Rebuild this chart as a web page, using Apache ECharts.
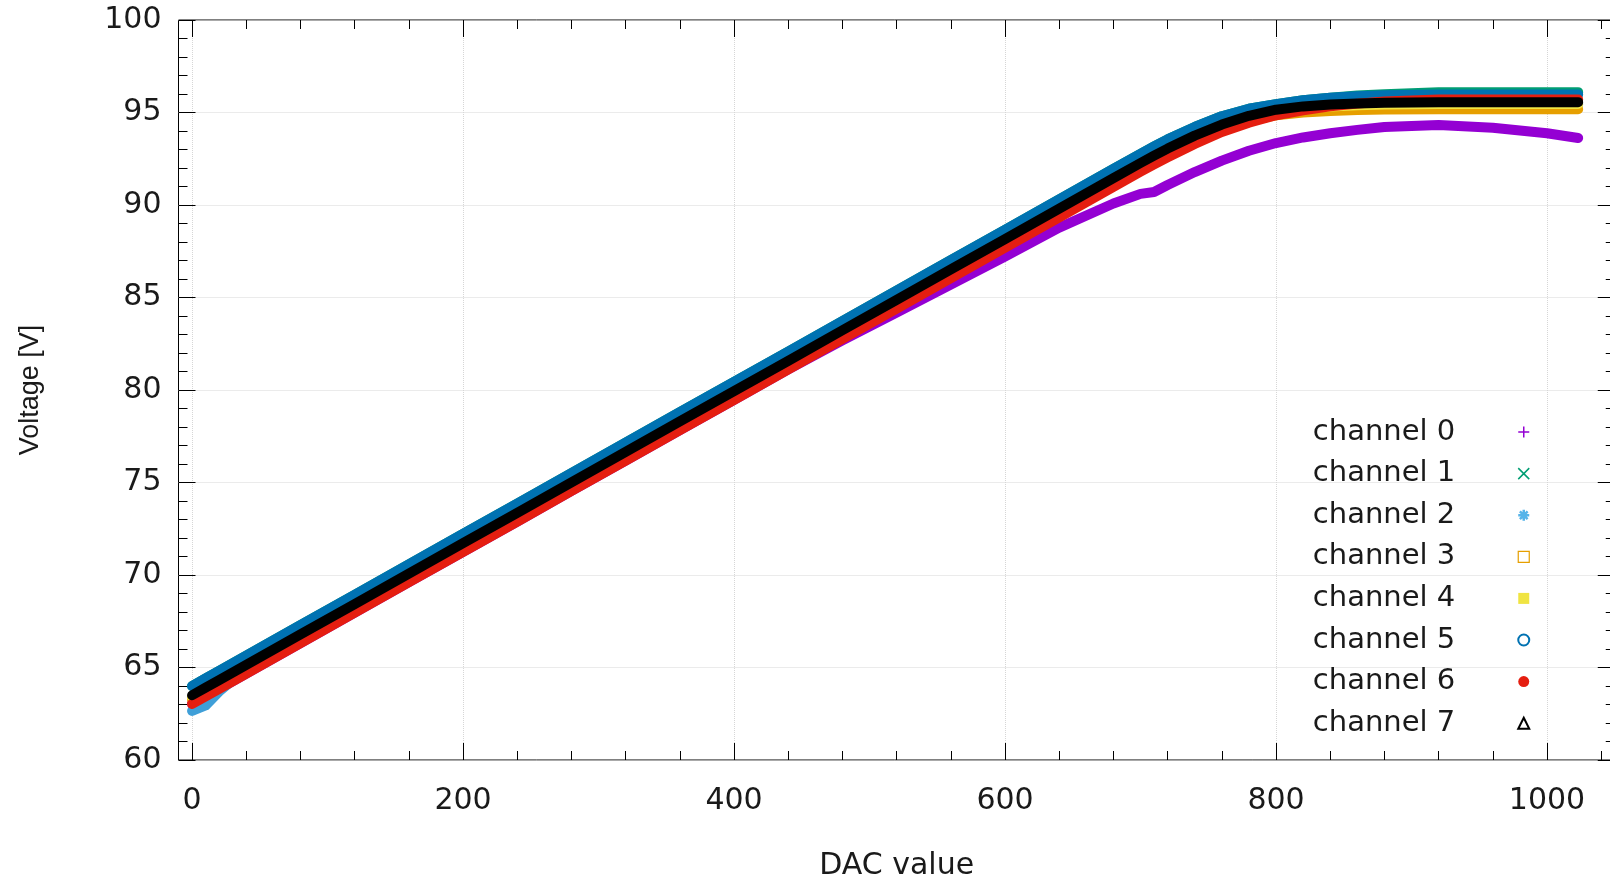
<!DOCTYPE html>
<html>
<head>
<meta charset="utf-8">
<script src="https://cdn.jsdelivr.net/npm/echarts@6/dist/echarts.min.js"></script>
<style>
html,body{margin:0;padding:0;background:#fff;}
#chart{width:1610px;height:879px;}
</style>
</head>
<body>
<div id="chart"></div>
<script>
// DAC sample positions (x)
var dac = [0,10,20,40,80,120,160,200,240,280,320,360,400,440,480,520,560,600,640,680,700,710,720,740,760,780,800,820,840,860,880,920,960,1000,1023];

// Voltage [V] per channel
var ch0 = [63.03,63.44,63.85,64.67,66.32,67.96,69.61,71.25,72.89,74.54,76.18,77.83,79.47,81.11,82.68,84.19,85.70,87.21,88.78,90.08,90.60,90.70,91.08,91.78,92.40,92.93,93.35,93.65,93.88,94.06,94.22,94.32,94.18,93.88,93.62];
var ch1 = [64.00,64.41,64.82,65.64,67.29,68.93,70.58,72.22,73.86,75.51,77.15,78.80,80.44,82.08,83.73,85.37,87.02,88.66,90.30,91.95,92.77,93.17,93.55,94.22,94.80,95.20,95.45,95.66,95.80,95.92,95.98,96.10,96.10,96.10,96.10];
var ch2 = [62.65,62.95,63.70,64.94,66.59,68.23,69.88,71.52,73.16,74.81,76.45,78.10,79.74,81.38,83.03,84.67,86.32,87.96,89.60,91.25,92.07,92.47,92.85,93.55,94.15,94.65,95.00,95.20,95.33,95.39,95.43,95.46,95.46,95.46,95.46];
var ch3 = [63.25,63.66,64.07,64.89,66.54,68.18,69.83,71.47,73.11,74.76,76.40,78.05,79.69,81.33,82.98,84.62,86.27,87.91,89.55,91.20,92.02,92.42,92.80,93.50,94.10,94.55,94.85,95.00,95.08,95.13,95.16,95.18,95.18,95.18,95.18];
var ch4 = [63.40,63.81,64.22,65.04,66.69,68.33,69.98,71.62,73.26,74.91,76.55,78.20,79.84,81.48,83.13,84.77,86.42,88.06,89.70,91.35,92.17,92.57,92.95,93.65,94.25,94.72,95.05,95.23,95.33,95.39,95.43,95.46,95.46,95.46,95.46];
var ch5 = [64.00,64.41,64.82,65.64,67.29,68.93,70.58,72.22,73.86,75.51,77.15,78.80,80.44,82.08,83.73,85.37,87.02,88.66,90.30,91.95,92.77,93.17,93.55,94.22,94.80,95.20,95.45,95.66,95.80,95.88,95.93,95.97,95.97,95.97,95.97];
var ch6 = [63.03,63.44,63.85,64.67,66.32,67.96,69.61,71.25,72.89,74.54,76.18,77.83,79.47,81.11,82.76,84.40,86.05,87.69,89.33,90.98,91.80,92.20,92.58,93.30,93.95,94.45,94.85,95.12,95.33,95.48,95.60,95.70,95.70,95.70,95.70];
var ch7 = [63.50,63.91,64.32,65.14,66.79,68.43,70.08,71.72,73.36,75.01,76.65,78.30,79.94,81.58,83.23,84.87,86.52,88.16,89.80,91.45,92.27,92.67,93.05,93.75,94.35,94.82,95.15,95.33,95.43,95.49,95.53,95.56,95.56,95.56,95.56];

var channelNames = ['channel 0','channel 1','channel 2','channel 3','channel 4','channel 5','channel 6','channel 7'];
var channelData = [ch0,ch1,ch2,ch3,ch4,ch5,ch6,ch7];
var colors = ['#9400d3','#009e73','#3f9fd8','#e69f00','#f0e442','#0072b2','#e51e10','#000000'];

// tick labels
var xMajor = [0,200,400,600,800,1000];
var xMinor = [0,40,80,120,160,200,240,280,320,360,400,440,480,520,560,600,640,680,720,760,800,840,880,920,960,1000,1040];

var tickFont = 'DejaVu Sans';
var plus = 'path://M5,0L5,10M0,5L10,5';
var cross = 'path://M1,1L9,9M9,1L1,9';
var star = 'path://M5,0L5,10M0,5L10,5M1.5,1.5L8.5,8.5M8.5,1.5L1.5,8.5';
var square = 'path://M0,0L10,0L10,10L0,10Z';
var icons = [
  {icon: plus, itemStyle:{color:'rgba(0,0,0,0)', borderColor: colors[0], borderWidth:1.5}},
  {icon: cross, itemStyle:{color:'rgba(0,0,0,0)', borderColor: colors[1], borderWidth:1.5}},
  {icon: star, itemStyle:{color:'rgba(0,0,0,0)', borderColor: '#56b4e9', borderWidth:2.5}},
  {icon: square, itemStyle:{color:'rgba(0,0,0,0)', borderColor: colors[3], borderWidth:1.2}},
  {icon: square, itemStyle:{color: colors[4], borderColor: colors[4], borderWidth:0}},
  {icon: 'emptyCircle', itemStyle:{color: colors[5]}},
  {icon: 'circle', itemStyle:{color: colors[6], borderWidth:0}},
  {icon: 'emptyTriangle', itemStyle:{color: colors[7]}}
];

function pairs(arr){
  var out = [];
  for (var i = 0; i < dac.length; i++) out.push([dac[i], arr[i]]);
  return out;
}

var series = channelNames.map(function(n, i){
  return {
    name: n,
    type: 'line',
    data: pairs(channelData[i]),
    showSymbol: false,
    symbol: 'none',
    smooth: false,
    color: colors[i],
    lineStyle: {color: colors[i], width: 10, cap: 'round', join: 'round'},
    z: 2 + i
  };
});

var legendData = channelNames.map(function(n, i){
  return {name: n, icon: icons[i].icon, itemStyle: icons[i].itemStyle};
});

function plain(v){ return String(v); }

function xAxisDef(pos, vals, len, withLabel){
  var a = {
    type: 'value', min: -10, max: 1050, position: pos,
    axisLine: {show: false, onZero: false},
    axisTick: {show: true, inside: true, length: len, customValues: vals, lineStyle: {color: '#000', width: 1}},
    axisLabel: {show: false},
    splitLine: {show: false}
  };
  if (withLabel) {
    a.axisLabel = {show: true, customValues: xMajor, formatter: plain, margin: 26, fontSize: 30, fontFamily: tickFont, color: '#1a1a1a'};
    a.splitLine = {show: true, lineStyle: {color: '#d6d6d6', type: 'dotted', width: 1}};
    a.name = 'DAC value';
    a.nameLocation = 'middle';
    a.nameGap = 91;
    a.nameTextStyle = {fontSize: 30, fontFamily: tickFont, color: '#1a1a1a'};
  }
  return a;
}

function yAxisDef(pos, withLabel){
  var a = {
    type: 'value', min: 60, max: 100, interval: 5, position: pos,
    axisLine: {show: false, onZero: false},
    axisTick: {show: true, inside: true, length: 17, lineStyle: {color: '#000', width: 1}},
    minorTick: {show: true, splitNumber: 5, length: 9, lineStyle: {color: '#000', width: 1}},
    axisLabel: {show: false},
    splitLine: {show: false}
  };
  if (withLabel) {
    a.axisLabel = {show: true, formatter: plain, margin: 17, fontSize: 30, fontFamily: tickFont, color: '#1a1a1a'};
    a.splitLine = {show: true, lineStyle: {color: '#d6d6d6', type: 'dotted', width: 1}};
    a.name = 'Voltage [V]';
    a.nameLocation = 'middle';
    a.nameRotate = 90;
    a.nameGap = 134;
    a.nameTextStyle = {fontSize: 27, fontFamily: "'Liberation Sans Narrow','Liberation Sans',sans-serif", color: '#1a1a1a'};
  }
  return a;
}

var chart = echarts.init(document.getElementById('chart'), null, {renderer: 'canvas'});
chart.setOption({
  animation: false,
  backgroundColor: '#fff',
  grid: {left: 178.5, right: -4.75, top: 20, bottom: 119, show: true, borderColor: '#000', borderWidth: 1, containLabel: false, outerBoundsMode: 'none'},
  xAxis: [
    xAxisDef('bottom', xMajor, 17, true),
    xAxisDef('bottom', xMinor, 9, false),
    xAxisDef('top', xMajor, 17, false),
    xAxisDef('top', xMinor, 9, false)
  ],
  yAxis: [yAxisDef('left', true), yAxisDef('right', false)],
  legend: {
    orient: 'vertical',
    align: 'right',
    right: 79.5,
    top: 417,
    padding: 0,
    itemGap: 11.6,
    itemWidth: 11,
    itemHeight: 11,
    selectedMode: false,
    symbolKeepAspect: true,
    textStyle: {fontSize: 29, fontFamily: tickFont, color: '#1a1a1a', lineHeight: 30, padding: [0, 58, 0, 0]},
    data: legendData
  },
  series: series
});
</script>
</body>
</html>
